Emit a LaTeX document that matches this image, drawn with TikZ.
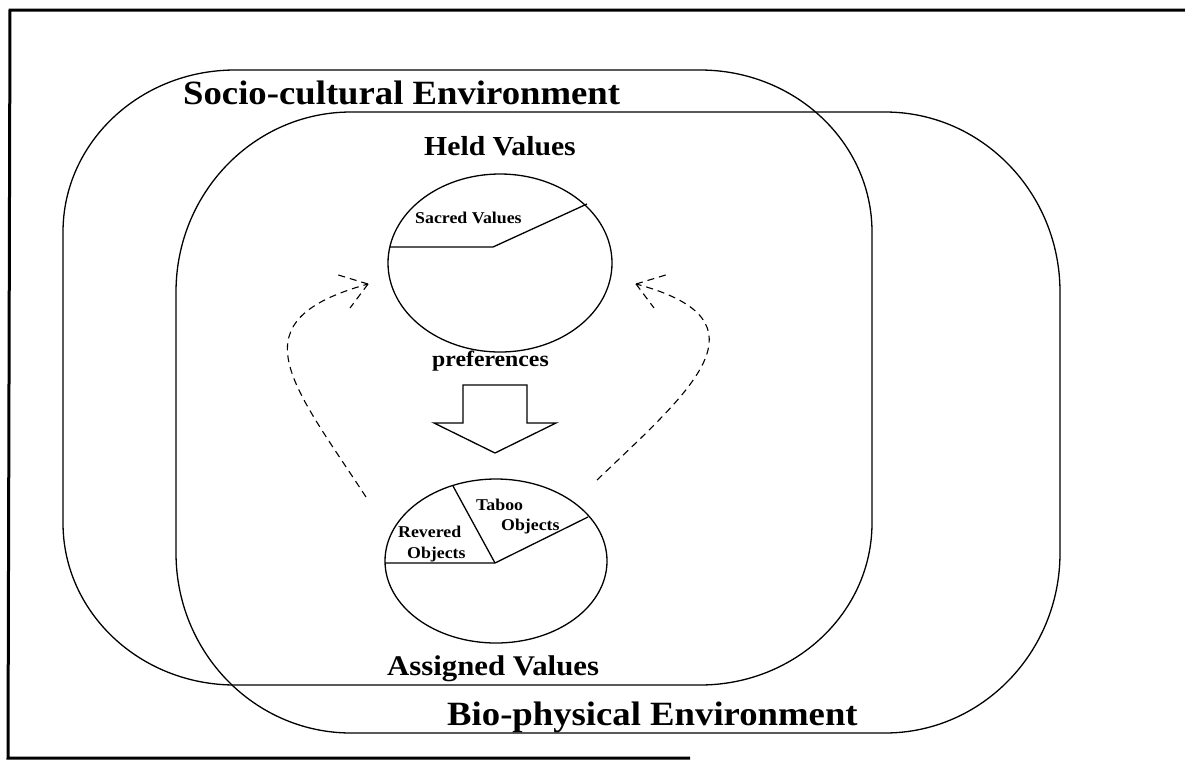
\documentclass[tikz,border=0pt]{standalone}
\usepackage{fontspec}
\setmainfont{Liberation Serif}
\usetikzlibrary{shapes.geometric}
\newcommand\envshape[6]{%
 \draw[envline] ({#1+#5},#2) -- ({#3-#5},#2)
  .. controls ({#3-#5+0.5523*#5},#2) and (#3,{#2+#6-0.5523*#6}) .. (#3,{#2+#6})
  -- (#3,{#4-#6})
  .. controls (#3,{#4-#6+0.5523*#6}) and ({#3-#5+0.5523*#5},#4) .. ({#3-#5},#4)
  -- ({#1+#5},#4)
  .. controls ({#1+#5-0.5523*#5},#4) and (#1,{#4-#6+0.5523*#6}) .. (#1,{#4-#6})
  -- (#1,{#2+#6})
  .. controls (#1,{#2+#6-0.5523*#6}) and ({#1+#5-0.5523*#5},#2) .. ({#1+#5},#2) -- cycle;}
\begin{document}
\begin{tikzpicture}[x=1pt,y=-1pt,
  envline/.style={line width=1.3pt},
  pie/.style={draw, ellipse, line width=1.3pt, inner sep=0pt},
  pieline/.style={line width=1.3pt},
  lbl/.style={anchor=base west, inner sep=0pt},
  bigtxt/.style={lbl, font=\bfseries\fontsize{34}{40}\selectfont},
  midtxt/.style={lbl, font=\bfseries\fontsize{27.5}{32}\selectfont},
  asgtxt/.style={lbl, font=\bfseries\fontsize{28.5}{32}\selectfont},
  prtxt/.style={lbl, font=\bfseries\fontsize{22}{26}\selectfont},
  smalltxt/.style={lbl, font=\bfseries\fontsize{16.5}{20}\selectfont},
  dsh/.style={dash pattern=on 7pt off 5pt, line width=1.1pt},
  blockarrow/.style={line width=1.3pt}]
\useasboundingbox (0,0) rectangle (1185,761);
\fill[white] (0,0) rectangle (1185,761);
% frame
\draw[line width=3pt] (1185,10) -- (10,10) -- (8,758) -- (690,758);
% environments
\envshape{63}{70}{872}{685}{172}{162}
\envshape{176}{112}{1060}{733}{175}{180}
% labels of environments
\node[bigtxt] (socio) at (183,104) {\scalebox{1.08}[1]{Socio-cultural Environment}};
\node[bigtxt] (bio) at (447,725) {\scalebox{1.08}[1]{Bio-physical Environment}};
% held values
\node[midtxt] (heldlbl) at (424,155) {\scalebox{1.08}[1]{Held Values}};
\node[pie, minimum width=224pt, minimum height=178pt] (held) at (500,263) {};
\coordinate (hL) at (390,247);
\coordinate (hC) at (493,247);
\coordinate (hR) at (587,204);
\draw[pieline] (hL) -- (hC) -- (hR);
\node[smalltxt] (sacred) at (415,223) {\scalebox{1.08}[1]{Sacred Values}};
% preferences
\node[prtxt] (pref) at (432,366) {\scalebox{1.08}[1]{preferences}};
\draw[blockarrow] (463,385) -- (527,385) -- (527,423) -- (556,423) -- (495,453) -- (434,423) -- (463,423) -- cycle;
% assigned values
\node[pie, minimum width=222pt, minimum height=164pt] (assigned) at (496,561) {};
\coordinate (aL) at (385,563);
\coordinate (aC) at (495,563);
\coordinate (aT) at (453,486);
\coordinate (aR) at (588,517);
\draw[pieline] (aL) -- (aC) -- (aR);
\draw[pieline] (aC) -- (aT);
\node[smalltxt] (taboo) at (476,510) {\scalebox{1.08}[1]{Taboo}};
\node[smalltxt] (tobj) at (501,530) {\scalebox{1.08}[1]{Objects}};
\node[smalltxt] (revered) at (398,537) {\scalebox{1.08}[1]{Revered}};
\node[smalltxt] (robj) at (407,558) {\scalebox{1.08}[1]{Objects}};
\node[asgtxt] (assignedlbl) at (387,675) {\scalebox{1.08}[1]{Assigned Values}};
% dashed feedback arrows
\coordinate (ls) at (366,497);
\coordinate (lt) at (368,284);
\coordinate (rs) at (597,480);
\coordinate (rt) at (636,284);
\draw[dsh] (ls) .. controls (290,381) and (235,321) .. (lt);
\draw[dsh] (lt) -- ++(-33,-10);
\draw[dsh] (lt) -- ++(-18,24);
\draw[dsh] (rs) .. controls (690,391) and (775,321) .. (rt);
\draw[dsh] (rt) -- ++(33,-10);
\draw[dsh] (rt) -- ++(18,24);
\end{tikzpicture}
\end{document}
